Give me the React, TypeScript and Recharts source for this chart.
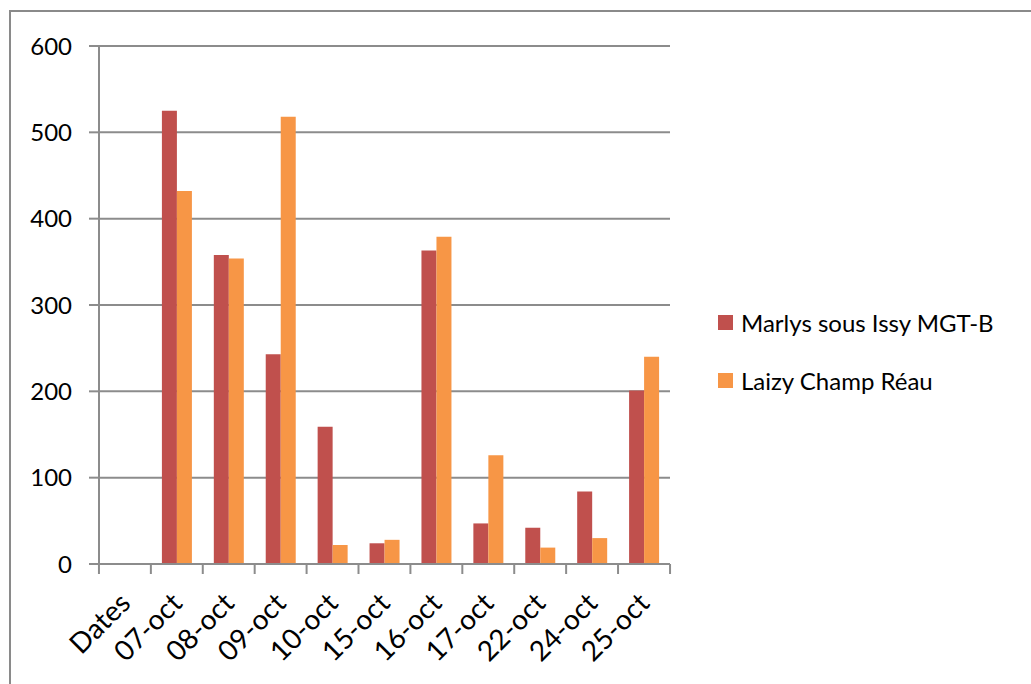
import { BarChart, Bar, XAxis, YAxis, CartesianGrid } from "recharts";

const categories = ["Dates", "07-oct", "08-oct", "09-oct", "10-oct", "15-oct", "16-oct", "17-oct", "22-oct", "24-oct", "25-oct"];
const marlys = [null, 525, 358, 243, 159, 24, 363, 47, 42, 84, 201];
const laizy = [null, 432, 354, 518, 22, 28, 379, 126, 19, 30, 240];
const yTicks = [0, 100, 200, 300, 400, 500, 600];

const seriesNames = ["Marlys sous Issy MGT-B", "Laizy Champ Réau"];
const colors = ["#C0504D", "#F79646"];

const data = categories.map((c, i) => ({ date: c, marlys: marlys[i], laizy: laizy[i] }));

const FONT = "Lato, 'Liberation Sans', sans-serif";
const GRID = "#8c8c8c";

// x ticks: Excel puts tick marks between categories, so draw them at the band edges
function DateTick(props: any) {
  const { x, y, payload, index, visibleTicksCount } = props;
  const half = 26;
  const tx = x + 7;
  const ty = y + 33;
  return (
    <g>
      <line x1={x - half} y1={y - 8} x2={x - half} y2={y + 2} stroke={GRID} strokeWidth={2} />
      {index === visibleTicksCount - 1 && (
        <line x1={x + half} y1={y - 8} x2={x + half} y2={y + 2} stroke={GRID} strokeWidth={2} />
      )}
      <text
        x={tx}
        y={ty}
        textAnchor="end"
        transform={`rotate(-45, ${tx}, ${ty})`}
        fontFamily={FONT}
        fontSize={28}
        fill="#000"
      >
        {payload.value}
      </text>
    </g>
  );
}

function SideLegend() {
  return (
    <div style={{ position: "absolute", left: 718, top: 293, fontFamily: FONT, fontSize: 24, color: "#000" }}>
      {seriesNames.map((n, i) => (
        <div key={n} style={{ display: "flex", alignItems: "center", height: 58 }}>
          <span style={{ width: 15, height: 15, background: colors[i], marginRight: 8, display: "inline-block" }} />
          <span>{n}</span>
        </div>
      ))}
    </div>
  );
}

export default function App() {
  return (
    <div style={{ position: "absolute", left: 0, top: 0, width: 1031, height: 684, background: "#fff", overflow: "hidden" }}>
      <div
        style={{
          position: "absolute",
          left: 9,
          top: 10,
          width: 1100,
          height: 800,
          border: "2px solid #8a8a8a",
        }}
      />
      <div style={{ position: "absolute", left: 0, top: 0 }}>
        <BarChart
          width={1031}
          height={684}
          data={data}
          margin={{ top: 46, right: 361, bottom: 0, left: 0 }}
          barCategoryGap={11}
          barGap={0}
        >
          <CartesianGrid vertical={false} stroke={GRID} strokeWidth={2} />
          <XAxis
            dataKey="date"
            interval={0}
            tickLine={false}
            axisLine={{ stroke: GRID, strokeWidth: 2 }}
            tick={<DateTick />}
            height={120}
          />
          <YAxis
            domain={[0, 600]}
            ticks={yTicks}
            width={99}
            tickSize={10}
            tickMargin={17}
            axisLine={{ stroke: GRID, strokeWidth: 2 }}
            tickLine={{ stroke: GRID, strokeWidth: 2 }}
            tick={{ fill: "#000", fontSize: 24, fontFamily: FONT }}
          />
          <Bar dataKey="marlys" name={seriesNames[0]} fill={colors[0]} isAnimationActive={false} />
          <Bar dataKey="laizy" name={seriesNames[1]} fill={colors[1]} isAnimationActive={false} />
        </BarChart>
      </div>
      <SideLegend />
    </div>
  );
}
